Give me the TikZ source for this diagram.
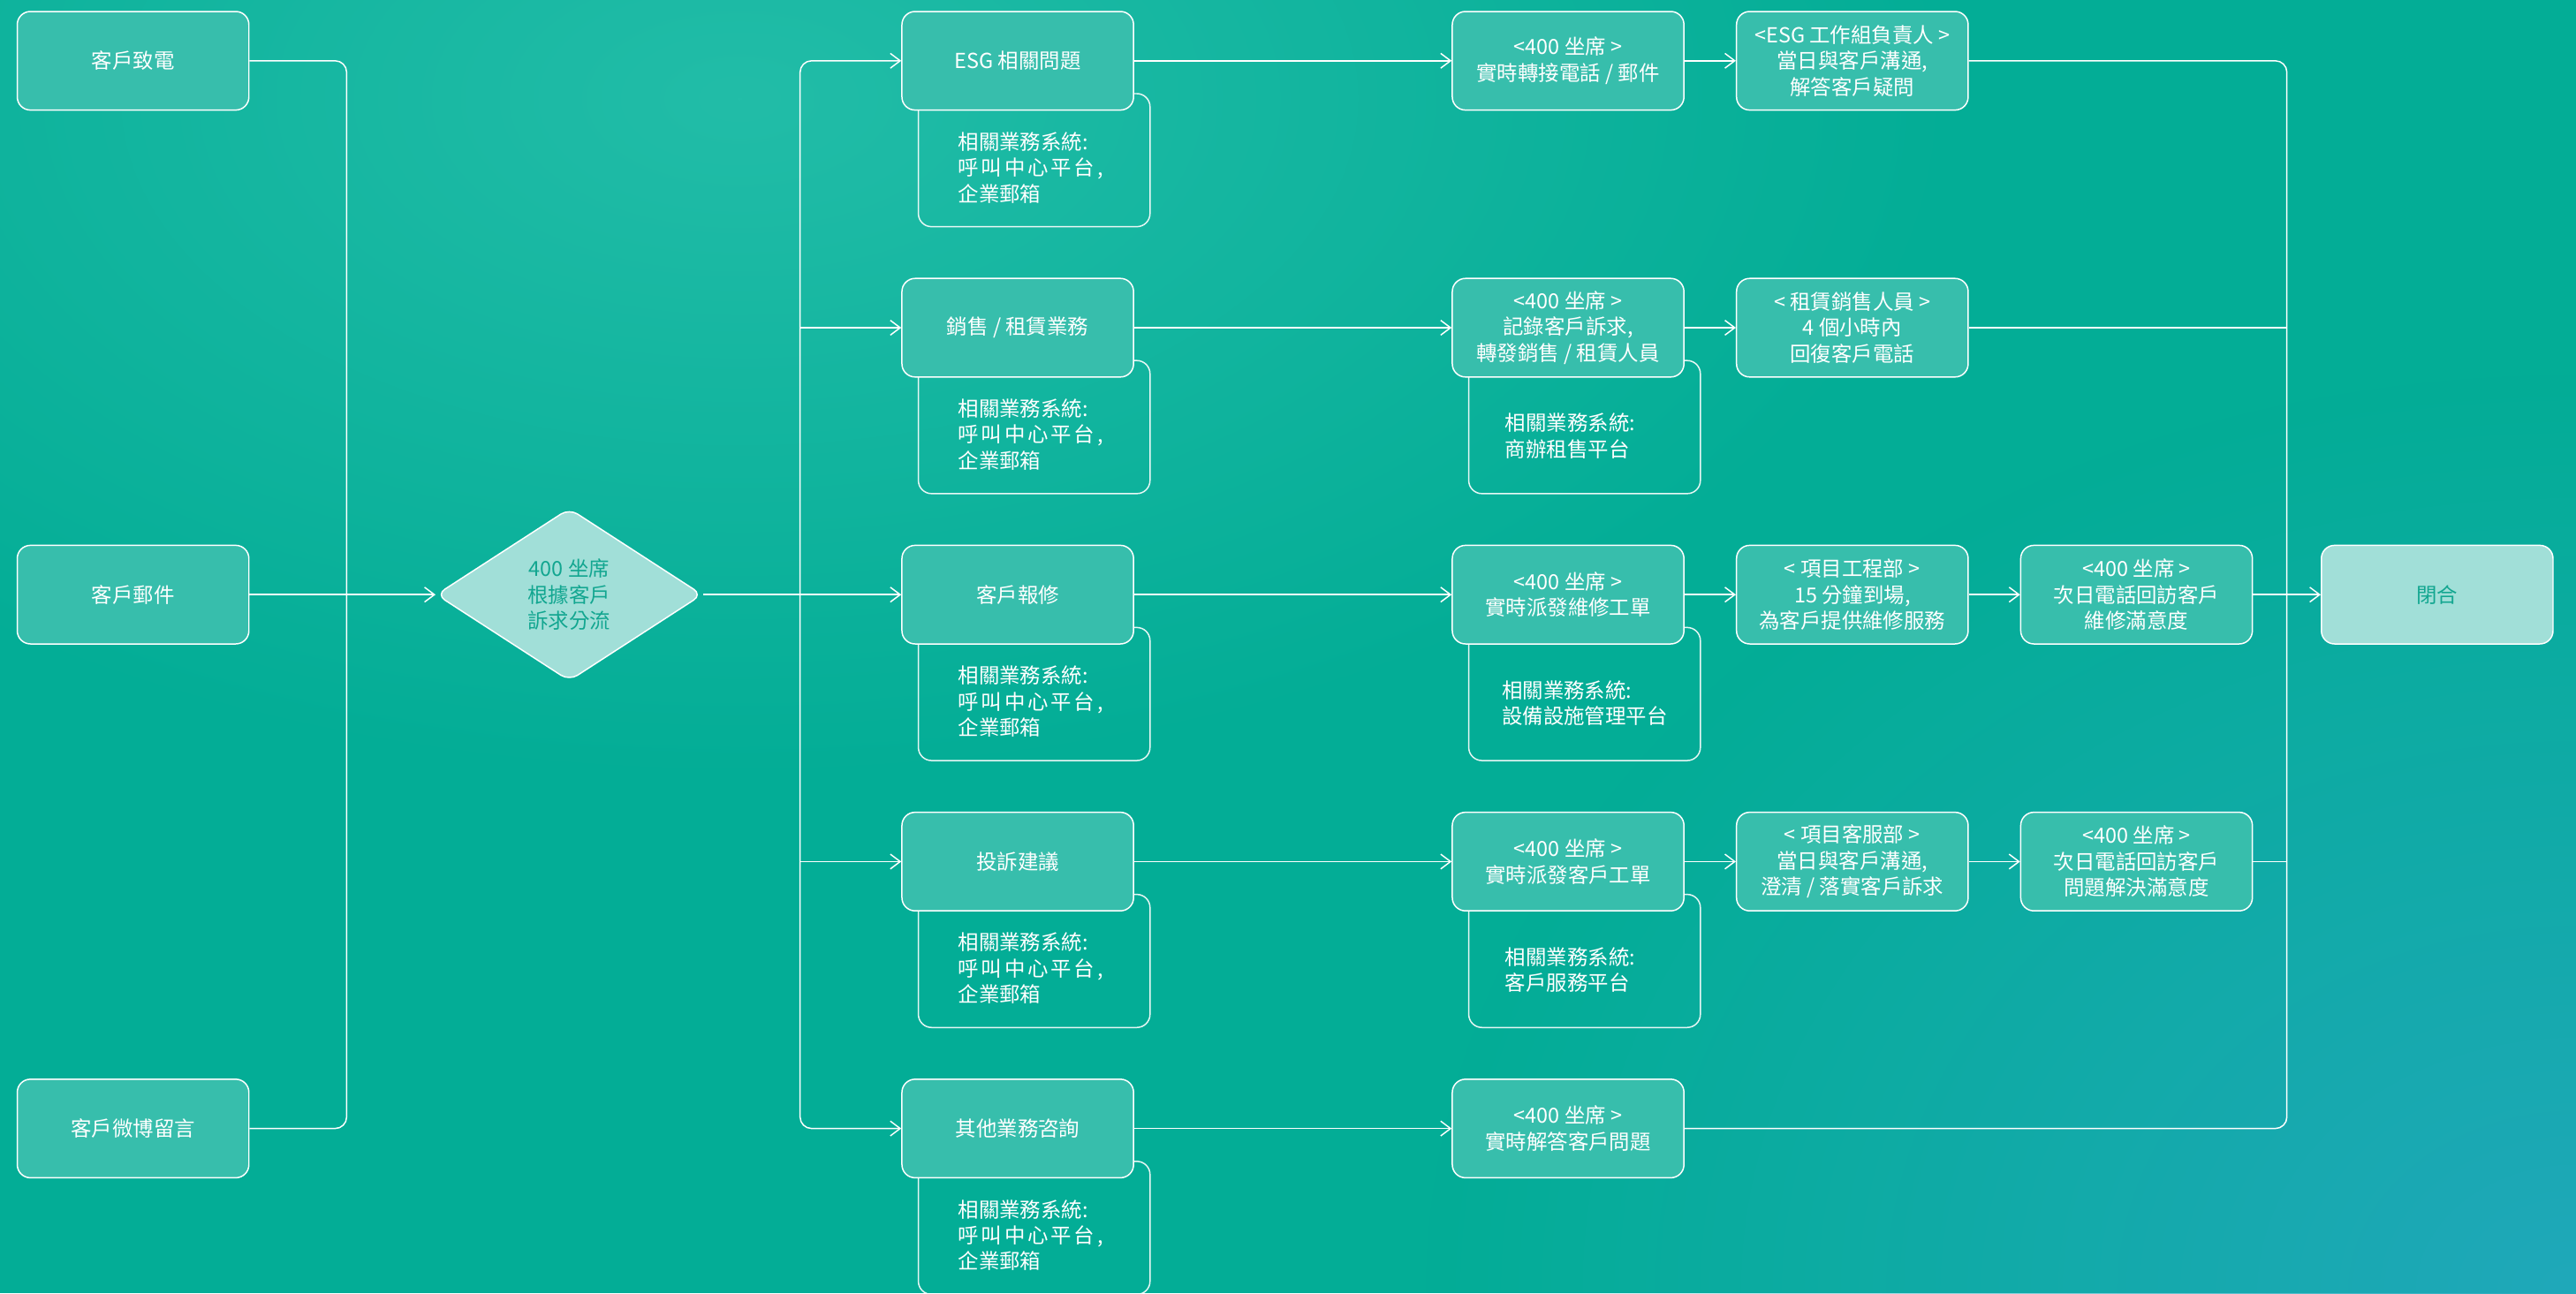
\documentclass[tikz,border=0pt]{standalone}
\usepackage{fontspec}
\setmainfont{Noto Sans CJK TC}
\usetikzlibrary{shapes.geometric,arrows.meta,fadings}
\definecolor{bgbase}{HTML}{03AD96}
\definecolor{glow}{HTML}{22BDA8}
\definecolor{blueglow}{HTML}{20A8BA}
\definecolor{boxfill}{HTML}{37BEAC}
\definecolor{lightfill}{HTML}{A1DFD8}
\definecolor{tealtext}{HTML}{12A690}
\tikzfading[name=softglow, inner color=transparent!0, outer color=transparent!100]
\newcommand\lsp[1]{{\addfontfeatures{LetterSpace=12}#1}}
\begin{document}
\begin{tikzpicture}[x=1pt,y=-1pt,
  every node/.style={font=\fontsize{12.6}{15.8}\selectfont, text=white},
  box/.style={draw=white, line width=0.8pt, rounded corners=8pt, fill=boxfill, minimum width=141pt, minimum height=60pt, inner sep=0pt, align=center},
  lightbox/.style={box, fill=lightfill, text=tealtext},
  notebox/.style={draw=white, draw opacity=0.9, line width=0.8pt, rounded corners=8pt, minimum width=141pt, minimum height=81pt, inner sep=0pt},
  notetext/.style={anchor=west, align=left, inner sep=0pt},
  decision/.style={diamond, draw=white, line width=0.8pt, fill=lightfill, text=tealtext, minimum width=162pt, minimum height=105pt, inner sep=0pt, aspect=1.5, rounded corners=6pt, align=center},
  line/.style={draw=white, line width=0.8pt, rounded corners=7pt},
  arr/.style={line, -{Straight Barb[length=6pt,width=9pt]}}
]
\useasboundingbox (0,0) rectangle (1568,787.3);
\begin{scope}
\clip (0,0) rectangle (1568,787.3);
\fill[bgbase] (0,0) rectangle (1568,787.3);
\fill[glow, path fading=softglow] (450,60) ellipse [x radius=750pt, y radius=420pt];
\fill[blueglow, path fading=softglow] (1568,787) ellipse [x radius=700pt, y radius=560pt];
\end{scope}

% inputs
\node[box] (in1) at (81,37) {客戶致電};
\node[box] (in2) at (81,362) {客戶郵件};
\node[box] (in3) at (81,687) {客戶微博留言};
\node[decision] (dia) at (346.5,362) {400 坐席\\根據客戶\\訴求分流};

% note boxes
\node[notebox] (n1) at (629.5,97.5) {};
\node[notebox] (n2) at (629.5,260) {};
\node[notebox] (n3) at (629.5,422.5) {};
\node[notebox] (n4) at (629.5,585) {};
\node[notebox] (n5) at (629.5,747.5) {};
\node[notebox] (m2) at (964.5,260) {};
\node[notebox] (m3) at (964.5,422.5) {};
\node[notebox] (m4) at (964.5,585) {};

\node[notetext] (n1t) at (583,102) {相關業務系統:\\\lsp{呼叫中心平台,}\\企業郵箱};
\node[notetext] (n2t) at (583,264.5) {相關業務系統:\\\lsp{呼叫中心平台,}\\企業郵箱};
\node[notetext] (n3t) at (583,427) {相關業務系統:\\\lsp{呼叫中心平台,}\\企業郵箱};
\node[notetext] (n4t) at (583,589.5) {相關業務系統:\\\lsp{呼叫中心平台,}\\企業郵箱};
\node[notetext] (n5t) at (583,752) {相關業務系統:\\\lsp{呼叫中心平台,}\\企業郵箱};
\node[notetext] (m2t) at (916,265.5) {相關業務系統:\\商辦租售平台};
\node[notetext] (m3t) at (914,428) {相關業務系統:\\設備設施管理平台};
\node[notetext] (m4t) at (916,590.5) {相關業務系統:\\客戶服務平台};

% categories
\node[box] (c1) at (619.5,37) {ESG 相關問題};
\node[box] (c2) at (619.5,199.5) {銷售 / 租賃業務};
\node[box] (c3) at (619.5,362) {客戶報修};
\node[box] (c4) at (619.5,524.5) {投訴建議};
\node[box] (c5) at (619.5,687) {其他業務咨詢};

% step 2
\node[box] (s21) at (954.5,37) {<400 坐席 >\\實時轉接電話 / 郵件};
\node[box] (s22) at (954.5,199.5) {<400 坐席 >\\記錄客戶訴求,\\轉發銷售 / 租賃人員};
\node[box] (s23) at (954.5,362) {<400 坐席 >\\實時派發維修工單};
\node[box] (s24) at (954.5,524.5) {<400 坐席 >\\實時派發客戶工單};
\node[box] (s25) at (954.5,687) {<400 坐席 >\\實時解答客戶問題};

% step 3
\node[box] (s31) at (1127.5,37) {<ESG 工作組負責人 >\\當日與客戶溝通,\\解答客戶疑問};
\node[box] (s32) at (1127.5,199.5) {< 租賃銷售人員 >\\4 個小時內\\回復客戶電話};
\node[box] (s33) at (1127.5,362) {< 項目工程部 >\\15 分鐘到場,\\為客戶提供維修服務};
\node[box] (s34) at (1127.5,524.5) {< 項目客服部 >\\當日與客戶溝通,\\澄清 / 落實客戶訴求};

% step 4
\node[box] (s43) at (1300.5,362) {<400 坐席 >\\次日電話回訪客戶\\維修滿意度};
\node[box] (s44) at (1300.5,524.5) {<400 坐席 >\\次日電話回訪客戶\\問題解決滿意度};

\node[lightbox] (cl) at (1483.5,362) {閉合};

% left connectors
\coordinate (jl) at (211,362);
\draw[line] (in1) -| (jl);
\draw[line] (in3) -| (jl);
\draw[arr] (in2) -- (dia);

% middle trunk
\coordinate (jm) at (487,362);
\coordinate (t2) at (487,199.5);
\coordinate (t4) at (487,524.5);
\draw[arr] (jm) |- (c1);
\draw[arr] (jm) |- (c5);
\draw[arr] (dia) -- (c3);
\draw[arr] (t2) -- (c2);
\draw[arr] (t4) -- (c4);

% rows
\draw[arr] (c1) -- (s21);
\draw[arr] (s21) -- (s31);
\draw[arr] (c2) -- (s22);
\draw[arr] (s22) -- (s32);
\draw[arr] (c3) -- (s23);
\draw[arr] (s23) -- (s33);
\draw[arr] (s33) -- (s43);
\draw[arr] (c4) -- (s24);
\draw[arr] (s24) -- (s34);
\draw[arr] (s34) -- (s44);
\draw[arr] (c5) -- (s25);

% right merge
\coordinate (jr) at (1392,362);
\coordinate (jr2) at (1392,199.5);
\coordinate (jr4) at (1392,524.5);
\draw[line] (s31) -| (jr);
\draw[line] (s25) -| (jr);
\draw[line] (s32) -- (jr2);
\draw[line] (s44) -- (jr4);
\draw[arr] (s43) -- (cl);
\end{tikzpicture}
\end{document}
